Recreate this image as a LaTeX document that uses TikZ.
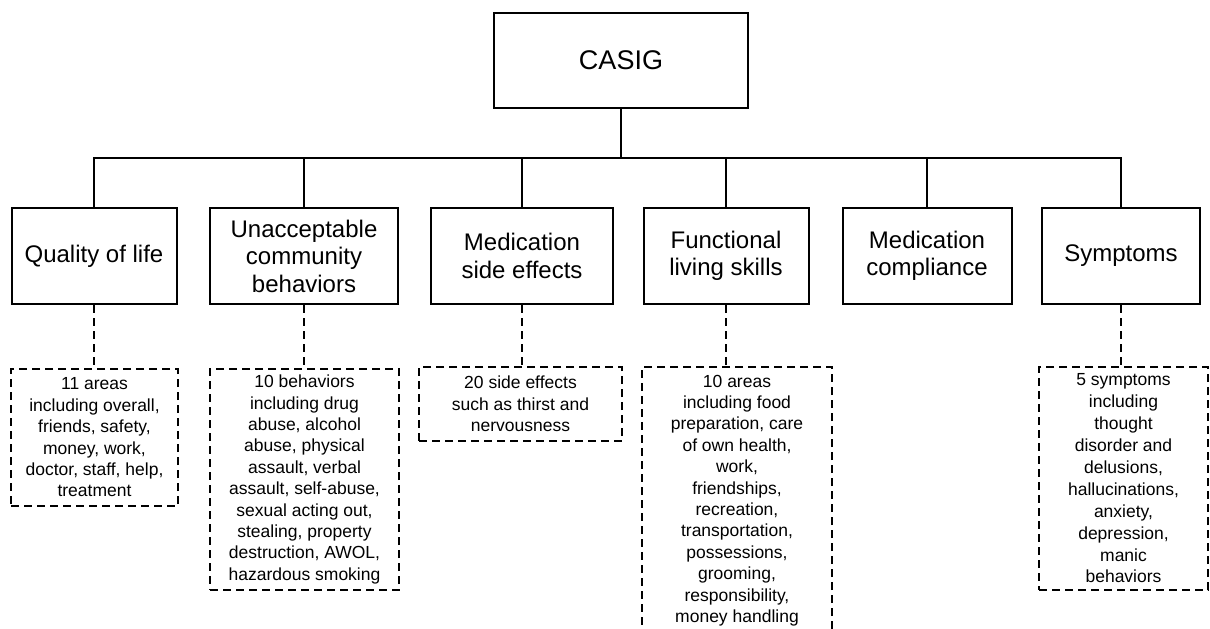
\documentclass[tikz,border=0pt]{standalone}
\usepackage{fontspec}
\setmainfont{Liberation Sans}
\begin{document}
\begin{tikzpicture}[x=1pt,y=-1pt,
  rootbox/.style={draw, line width=2pt, inner sep=0pt, align=center,
    font=\fontsize{27}{31}\selectfont},
  solidbox/.style={draw, line width=2pt, inner sep=0pt, align=center,
    minimum height=96pt, font=\fontsize{24}{27.5}\selectfont},
  notebox/.style={draw, line width=1.8pt, dash pattern=on 8pt off 5pt,
    inner sep=0pt, align=center, font=\fontsize{17.5}{21.4}\selectfont},
  link/.style={line width=2pt},
  dlink/.style={line width=1.8pt, dash pattern=on 8pt off 5pt}]
\useasboundingbox (0,0) rectangle (1210,629);
\clip (0,0) rectangle (1210,629);

% root
\node[rootbox, minimum width=254pt, minimum height=95pt] (casig) at (621,60.5) {CASIG};

% domain boxes
\node[solidbox, minimum width=165pt] (q) at (94,256) {Quality of life};
\node[solidbox, minimum width=188pt] (u) at (304,256) {Unacceptable\\community\\behaviors};
\node[solidbox, minimum width=182pt] (m) at (522,256) {Medication\\side effects};
\node[solidbox, minimum width=165pt] (f) at (726,256) {Functional\\living skills};
\node[solidbox, minimum width=169pt] (c) at (927,256) {Medication\\compliance};
\node[solidbox, minimum width=158pt] (s) at (1121,256) {Symptoms};

% detail boxes
\node[notebox, minimum width=167pt, minimum height=137pt] (dq) at (94.5,437.5)
  {11 areas\\including overall,\\friends, safety,\\money, work,\\doctor, staff, help,\\treatment};
\node[notebox, minimum width=189pt, minimum height=221pt] (du) at (304.5,479.5)
  {10 behaviors\\including drug\\abuse, alcohol\\abuse, physical\\assault, verbal\\assault, self-abuse,\\sexual acting out,\\stealing, property\\destruction, AWOL,\\hazardous smoking};
\node[notebox, minimum width=203pt, minimum height=74pt] (dm) at (520.5,404)
  {20 side effects\\such as thirst and\\nervousness};
\node[notebox, minimum width=190pt, minimum height=267pt] (df) at (737,500.5)
  {10 areas\\including food\\preparation, care\\of own health,\\work,\\friendships,\\recreation,\\transportation,\\possessions,\\grooming,\\responsibility,\\money handling};
\node[notebox, minimum width=169pt, minimum height=223pt,
  font=\fontsize{17.5}{21.9}\selectfont] (ds) at (1123.5,478.5)
  {5 symptoms\\including\\thought\\disorder and\\delusions,\\hallucinations,\\anxiety,\\depression,\\manic\\behaviors};

% tree connectors
\coordinate (bar) at (621,158);
\draw[link] (casig.south) -- (bar);
\draw[link] (q.north) |- (bar) -| (s.north);
\foreach \n in {u,m,f,c}
  \draw[link] (\n.north) -- (\n.north |- bar);

% dashed links to the detail boxes
\foreach \a/\b in {q/dq,u/du,m/dm,f/df,s/ds}
  \draw[dlink] (\a.south) -- (\a.south |- \b.north);
\end{tikzpicture}
\end{document}
